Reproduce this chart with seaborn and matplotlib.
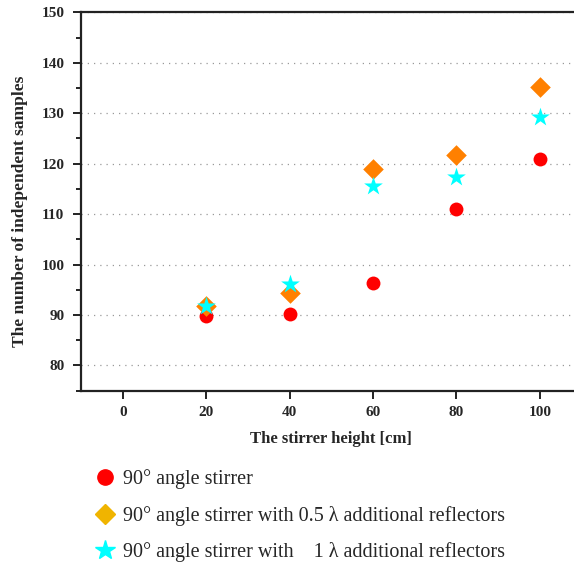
import matplotlib
matplotlib.use("Agg")
import matplotlib.pyplot as plt
from matplotlib.lines import Line2D
from matplotlib.ticker import MultipleLocator
import seaborn as sns
import pandas as pd

# Stirrer heights [cm]
heights = [20, 40, 60, 80, 100]
# Number of independent samples per configuration
stirrer_90 = [89.9, 90.3, 96.3, 111.1, 120.9]
stirrer_05 = [91.8, 94.3, 119.0, 121.8, 135.3]
stirrer_1 = [91.7, 96.2, 115.6, 117.3, 129.3]

series_names = [
    "90° angle stirrer",
    "90° angle stirrer with 0.5 λ additional reflectors",
    "90° angle stirrer with    1 λ additional reflectors",
]

rows = []
for name, vals in zip(series_names, [stirrer_90, stirrer_05, stirrer_1]):
    for h, v in zip(heights, vals):
        rows.append({"height": h, "samples": v, "series": name})
df = pd.DataFrame(rows)

sns.set_style("white")
plt.rcParams["font.family"] = ["Liberation Serif", "DejaVu Serif"]

fig = plt.figure(figsize=(5.74, 5.63), dpi=100)
ax = fig.add_axes([0.1411, 0.306, 0.872, 0.672])

palette = {series_names[0]: "#FF0000", series_names[1]: "#FF8000", series_names[2]: "#00FFFF"}
markers = {series_names[0]: "o", series_names[1]: "D", series_names[2]: "*"}
sizes = {series_names[0]: 100, series_names[1]: 110, series_names[2]: 200}

for name in series_names:
    sub = df[df["series"] == name]
    sns.scatterplot(data=sub, x="height", y="samples", color=palette[name],
                    marker=markers[name], s=sizes[name], linewidth=0,
                    ax=ax, legend=False, zorder=3)

ax.set_xlim(-10, 110)
ax.set_ylim(75, 150)
ax.set_xticks([0, 20, 40, 60, 80, 100])
ax.set_yticks([80, 90, 100, 110, 120, 130, 140, 150])
ax.yaxis.set_minor_locator(MultipleLocator(5))

ax.grid(axis="y", which="major", linestyle=(0, (1, 4)), color="#999999", linewidth=0.9)
ax.grid(axis="x", visible=False)

for side in ["left", "bottom", "top"]:
    ax.spines[side].set_linewidth(1.6)
    ax.spines[side].set_color("#222222")
ax.spines["right"].set_visible(False)

ax.tick_params(axis="both", which="major", direction="out", length=6, width=1.4,
               color="#222222", labelsize=11, pad=6)
ax.tick_params(axis="y", which="minor", direction="out", length=3.5, width=1.4,
               color="#222222", left=True)
ax.tick_params(axis="x", pad=5)
ax.tick_params(left=True, bottom=True)
for lab in ax.get_xticklabels() + ax.get_yticklabels():
    lab.set_fontweight("bold")

ax.set_xlabel("The stirrer height [cm]", fontsize=12, fontweight="bold", labelpad=9)
ax.set_ylabel("The number of independent samples", fontsize=12.5, fontweight="bold")
ax.yaxis.set_label_coords(-0.106, 0.474)

handles = [
    Line2D([], [], linestyle="none", marker="o", color="#FF0000", markersize=11),
    Line2D([], [], linestyle="none", marker="D", color="#F0B400", markersize=10),
    Line2D([], [], linestyle="none", marker="*", color="#00FFFF", markersize=15),
]
fig.legend(handles, series_names, loc="upper left", bbox_to_anchor=(0.1655, 0.167),
           frameon=False, fontsize=14.5, handletextpad=0.4, labelspacing=0.83,
           handlelength=1.0, borderaxespad=0, borderpad=0)

fig.savefig("out.png", dpi=100)
